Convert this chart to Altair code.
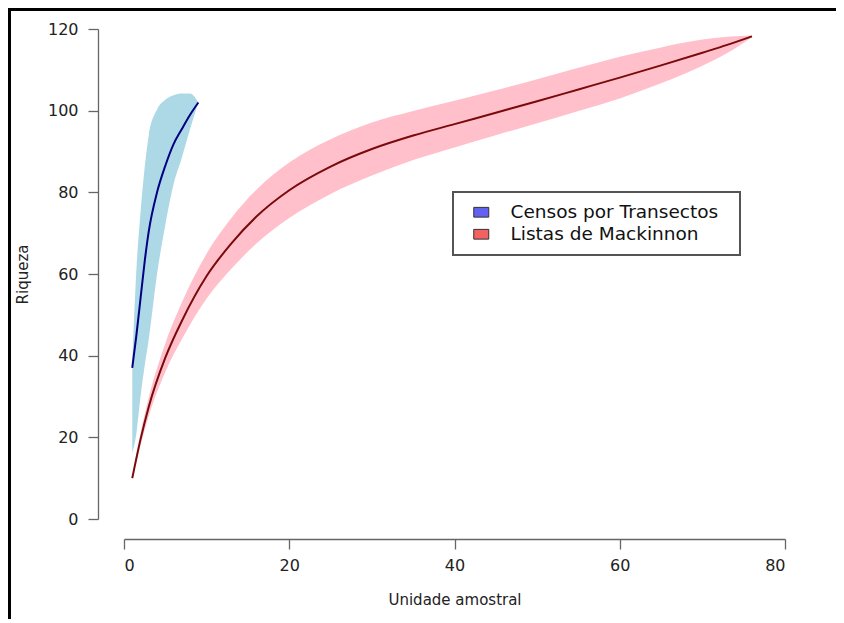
import altair as alt
import pandas as pd

# Censos por Transectos (blue)
blue_x = [1, 1.5, 2, 2.5, 3, 4, 5, 6, 7, 8, 9]
blue_line = [37, 45, 54, 63, 70.5, 80, 86.5, 91.8, 95.5, 99, 102]
blue_upper = [38, 61, 75, 86, 94, 100.3, 102.7, 103.8, 104.2, 104.2, 102]
blue_lower = [16, 21, 30, 37.5, 44, 60, 72, 82, 88.5, 95.5, 102]

# Listas de Mackinnon (pink)
pink_x = [1, 2, 3, 5, 7, 10, 13, 16, 20, 25, 30, 35, 40, 45, 50, 55, 60, 65, 70, 73, 76]
pink_line = [10, 19.5, 27.5, 39.5, 48.5, 59.5, 67.5, 74, 80.5, 86.3, 90.6, 93.9, 96.7, 99.5,
             102.3, 105.2, 108.1, 111.1, 114.2, 116.1, 118.2]
pink_upper = [10.5, 21, 29.8, 43, 53, 65, 73.7, 80.6, 87.3, 93, 97.1, 99.9, 102.4, 105,
              107.7, 110.5, 113.2, 115.5, 117.4, 118.1, 118.4]
pink_lower = [9.5, 18, 25.2, 36, 44, 54, 61.3, 67.4, 73.7, 79.6, 84.1, 87.9, 91, 94,
              96.9, 99.9, 103, 106.7, 111, 114.1, 118]

series_names = ["Censos por Transectos", "Listas de Mackinnon"]
legend_colors = ["#6262f2", "#f26262"]

blue = pd.DataFrame({"x": blue_x, "y": blue_line, "lo": blue_lower, "hi": blue_upper,
                     "serie": series_names[0]})
pink = pd.DataFrame({"x": pink_x, "y": pink_line, "lo": pink_lower, "hi": pink_upper,
                     "serie": series_names[1]})
both = pd.concat([blue, pink], ignore_index=True)

FONT = "DejaVu Sans"

xs = alt.Scale(domain=[0, 80], nice=False, zero=False)
ys = alt.Scale(domain=[0, 120], nice=False, zero=False)

xaxis = alt.Axis(values=[0, 20, 40, 60, 80], offset=20, grid=False, title="Unidade amostral",
                 titlePadding=19, labelPadding=8, tickSize=10)
yaxis = alt.Axis(values=[0, 20, 40, 60, 80, 100, 120], offset=26, grid=False, title="Riqueza",
                 labelAngle=0, titlePadding=17, labelPadding=10, tickSize=10)

def band(df, color):
    return alt.Chart(df).mark_area(color=color, opacity=1, interpolate="monotone").encode(
        x=alt.X("x:Q", scale=xs, axis=xaxis),
        y=alt.Y("lo:Q", scale=ys, axis=yaxis),
        y2="hi:Q",
    )

def line(df, color):
    return alt.Chart(df).mark_line(color=color, strokeWidth=2, interpolate="monotone").encode(
        x=alt.X("x:Q", scale=xs),
        y=alt.Y("y:Q", scale=ys),
    )

legend_layer = alt.Chart(both).mark_square(opacity=0).encode(
    x=alt.X("x:Q", scale=xs),
    y=alt.Y("y:Q", scale=ys),
    color=alt.Color("serie:N", scale=alt.Scale(domain=series_names, range=legend_colors),
                    legend=alt.Legend(orient="none", legendX=348, legendY=174, title=None,
                                      symbolType="M-1,-0.65H1V0.65H-1Z", symbolSize=225,
                                      symbolOpacity=1, symbolStrokeColor="#333",
                                      symbolStrokeWidth=1, labelFont=FONT, labelFontSize=18.5,
                                      labelColor="#111", labelOffset=20, rowPadding=3,
                                      labelLimit=0, padding=0)),
)

legend_box = alt.Chart(both).mark_rect(fill=None, stroke="#555", strokeWidth=1.2).encode(
    x=alt.value(329), x2=alt.value(616), y=alt.value(163), y2=alt.value(226)
)

frame_left = alt.Chart(both).mark_rule(color="#000", strokeWidth=3).encode(
    x=alt.value(-115), y=alt.value(-21), y2=alt.value(600)
)
frame_top = alt.Chart(both).mark_rule(color="#000", strokeWidth=3).encode(
    x=alt.value(-116), x2=alt.value(720), y=alt.value(-20)
)

chart = alt.layer(
    band(blue, "#add8e6"),
    band(pink, "#ffc0cb"),
    line(blue, "#000080"),
    line(pink, "#7a0a0a"),
    legend_layer,
    legend_box,
    frame_left,
    frame_top,
).properties(
    width=661, height=490,
    autosize=alt.AutoSizeParams(type="none"),
    padding={"left": 116, "top": 21, "right": 51, "bottom": 100},
).configure_view(stroke=None).configure_axis(
    domainColor="#666", tickColor="#666", domainWidth=1.3, tickWidth=1.3,
    labelFont=FONT, labelFontSize=16, labelColor="#222",
    titleFont=FONT, titleFontSize=15, titleFontWeight="normal", titleColor="#222",
)

chart.save("out.html", embed_options={"renderer": "svg", "actions": False})
